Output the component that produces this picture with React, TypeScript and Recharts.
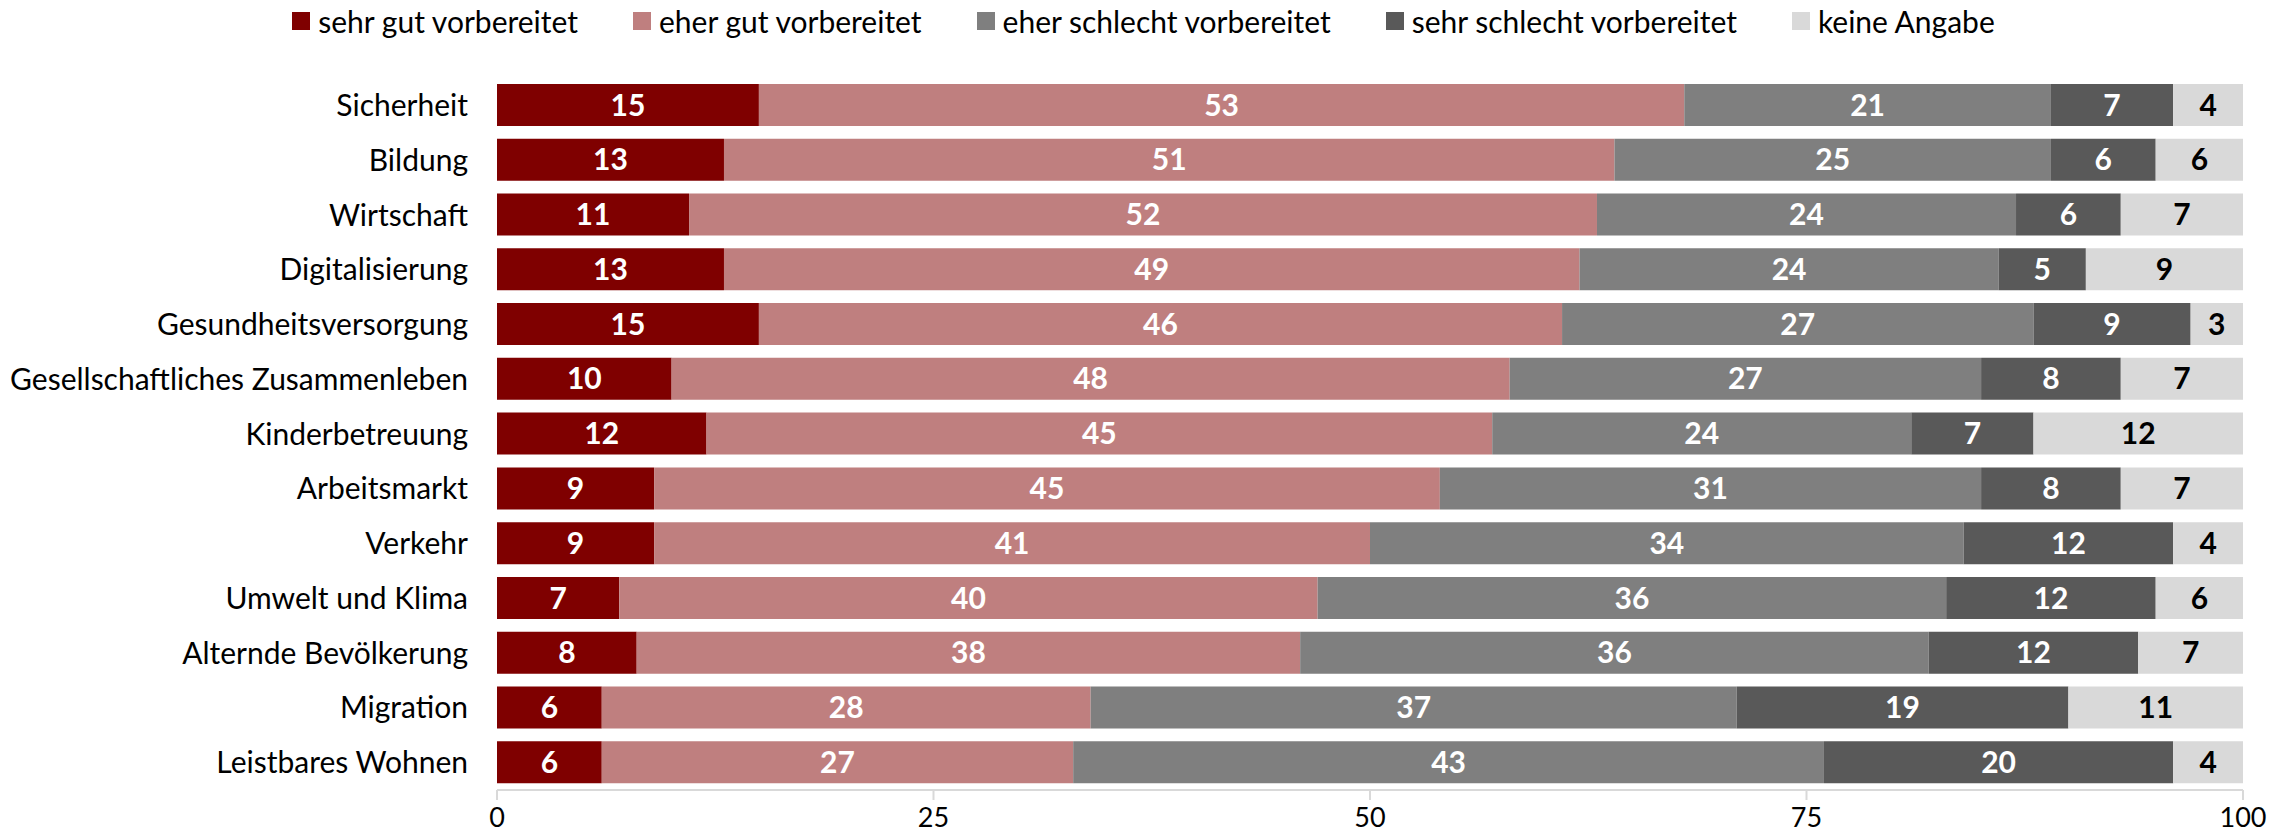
import React from 'react';
import { BarChart, Bar, XAxis, YAxis, LabelList } from 'recharts';

const categories = [
  'Sicherheit',
  'Bildung',
  'Wirtschaft',
  'Digitalisierung',
  'Gesundheitsversorgung',
  'Gesellschaftliches Zusammenleben',
  'Kinderbetreuung',
  'Arbeitsmarkt',
  'Verkehr',
  'Umwelt und Klima',
  'Alternde Bevölkerung',
  'Migration',
  'Leistbares Wohnen',
];

const sehrGut = [15, 13, 11, 13, 15, 10, 12, 9, 9, 7, 8, 6, 6];
const eherGut = [53, 51, 52, 49, 46, 48, 45, 45, 41, 40, 38, 28, 27];
const eherSchlecht = [21, 25, 24, 24, 27, 27, 24, 31, 34, 36, 36, 37, 43];
const sehrSchlecht = [7, 6, 6, 5, 9, 8, 7, 8, 12, 12, 12, 19, 20];
const keineAngabe = [4, 6, 7, 9, 3, 7, 12, 7, 4, 6, 7, 11, 4];

const xTicks = [0, 25, 50, 75, 100];

const series = [
  { key: 'sehrGut', name: 'sehr gut vorbereitet', color: '#7F0000', label: '#FFFFFF' },
  { key: 'eherGut', name: 'eher gut vorbereitet', color: '#BF7F7F', label: '#FFFFFF' },
  { key: 'eherSchlecht', name: 'eher schlecht vorbereitet', color: '#7F7F7F', label: '#FFFFFF' },
  { key: 'sehrSchlecht', name: 'sehr schlecht vorbereitet', color: '#595959', label: '#FFFFFF' },
  { key: 'keineAngabe', name: 'keine Angabe', color: '#D9D9D9', label: '#000000' },
];

const data = categories.map((name, i) => ({
  name,
  sehrGut: sehrGut[i],
  eherGut: eherGut[i],
  eherSchlecht: eherSchlecht[i],
  sehrSchlecht: sehrSchlecht[i],
  keineAngabe: keineAngabe[i],
}));

const FONT = 'Lato, "Open Sans", sans-serif';

export default function App() {
  return (
    <div style={{ position: 'relative', width: 2287, height: 836, fontFamily: FONT }}>
      <style>{'body{margin:0}'}</style>
      {/* legend row */}
      <div
        style={{
          position: 'absolute',
          top: 3,
          left: 0,
          width: 2287,
          display: 'flex',
          justifyContent: 'center',
          gap: 55,
          fontSize: 30,
          color: '#000',
        }}
      >
        {series.map((s) => (
          <div key={s.key} style={{ display: 'flex', alignItems: 'center' }}>
            <span style={{ display: 'inline-block', width: 18, height: 18, background: s.color, marginRight: 8 }} />
            <span>{s.name}</span>
          </div>
        ))}
      </div>
      <BarChart
        width={2287}
        height={836}
        data={data}
        layout="vertical"
        barSize={42}
        margin={{ top: 78, right: 44, bottom: 0, left: 0 }}
        style={{ position: 'absolute', top: 0, left: 0 }}
      >
        <XAxis
          type="number"
          domain={[0, 100]}
          allowDataOverflow
          ticks={xTicks}
          height={46}
          tick={{ fontSize: 27, fill: '#000', fontFamily: FONT }}
          axisLine={{ stroke: '#D9D9D9', strokeWidth: 2 }}
          tickLine={{ stroke: '#D9D9D9', strokeWidth: 2 }}
          tickSize={10}
          tickMargin={8}
        />
        <YAxis
          type="category"
          dataKey="name"
          width={497}
          axisLine={false}
          tickLine={false}
          tickSize={0}
          tickMargin={29}
          interval={0}
          tick={{ fontSize: 30, fill: '#000', fontFamily: FONT }}
        />
        {series.map((s) => (
          <Bar key={s.key} dataKey={s.key} name={s.name} stackId="a" fill={s.color} isAnimationActive={false}>
            <LabelList
              dataKey={s.key}
              position="center"
              fill={s.label}
              style={{ fontSize: 30, fontWeight: 700, fontFamily: FONT }}
            />
          </Bar>
        ))}
      </BarChart>
    </div>
  );
}
